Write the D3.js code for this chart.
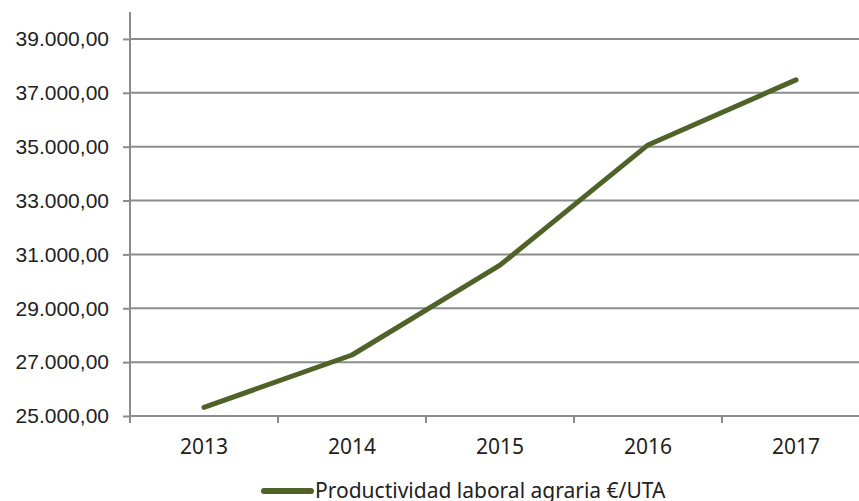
<!DOCTYPE html>
<html>
<head>
<meta charset="utf-8">
<script src="https://cdn.jsdelivr.net/npm/d3@7"></script>
<style>
  body { margin: 0; background: #fff; }
  svg { display: block; font-family: "Noto Sans", sans-serif; }
</style>
</head>
<body>
<div id="chart"></div>
<script>
var width = 859,
height = 501;

var years = ['2013', '2014', '2015', '2016', '2017'];
var values = [25320, 27265, 30600, 35065, 37480];
var yTicks = [25000, 27000, 29000, 31000, 33000, 35000, 37000, 39000];
var seriesName = 'Productividad laboral agraria €/UTA';

var plotLeft = 130, plotRight = 870, plotTop = 12, plotBottom = 416;
var grey = '#8c8c8c', lineColor = '#4f6228';

const fmt = d => d3.format(',.2f')(d).replace(/,/g, 'X').replace('.', ',').replace(/X/g, '.');

const xScale = d3.scaleBand().
domain(years).
range([plotLeft, plotRight]);

const yScale = d3.scaleLinear().
domain([25000, 40000]).
range([plotBottom, plotTop]);

const svg = d3.select('#chart').
append('svg').
attr('width', width).
attr('height', height);

// gridlines
svg.selectAll('.grid').
data(yTicks).
enter().
append('line').
attr('x1', plotLeft).
attr('x2', width).
attr('y1', d => yScale(d)).
attr('y2', d => yScale(d)).
attr('stroke', grey).
attr('stroke-width', 2);

const yAxis = d3.axisLeft(yScale).
tickValues(yTicks).
tickSize(7).
tickPadding(14).
tickFormat(fmt);

const gy = svg.append('g').
attr('transform', 'translate(' + plotLeft + ',0)').
call(yAxis);
gy.select('.domain').remove();
gy.selectAll('line').attr('stroke', grey).attr('stroke-width', 2);
gy.selectAll('text').attr('font-size', '21px').attr('fill', '#222');

svg.append('line').
attr('x1', plotLeft).attr('x2', plotLeft).
attr('y1', plotTop).attr('y2', plotBottom + 7).
attr('stroke', grey).attr('stroke-width', 2);

// x axis ticks at band edges
const edges = years.map(d => xScale(d)).concat([plotRight]);
svg.selectAll('.xtick').
data(edges).
enter().
append('line').
attr('x1', d => d).attr('x2', d => d).
attr('y1', plotBottom).attr('y2', plotBottom + 7).
attr('stroke', grey).attr('stroke-width', 2);

svg.selectAll('.xlabel').
data(years).
enter().
append('text').
attr('x', d => xScale(d) + xScale.bandwidth() / 2).
attr('y', 454).
attr('text-anchor', 'middle').
attr('font-size', '21px').
attr('fill', '#222').
text(d => d);

const line = d3.line().
x((d, i) => xScale(years[i]) + xScale.bandwidth() / 2).
y(d => yScale(d));

svg.append('path').
datum(values).
attr('d', line).
attr('fill', 'none').
attr('stroke', lineColor).
attr('stroke-width', 5).
attr('stroke-linecap', 'round').
attr('stroke-linejoin', 'round');

// legend
svg.append('line').
attr('x1', 264).attr('x2', 311).
attr('y1', 491).attr('y2', 491).
attr('stroke', lineColor).
attr('stroke-width', 6).
attr('stroke-linecap', 'round');

svg.append('text').
attr('x', 315).
attr('y', 498).
attr('font-size', '21px').
attr('fill', '#222').
text(seriesName);
</script>
</body>
</html>
